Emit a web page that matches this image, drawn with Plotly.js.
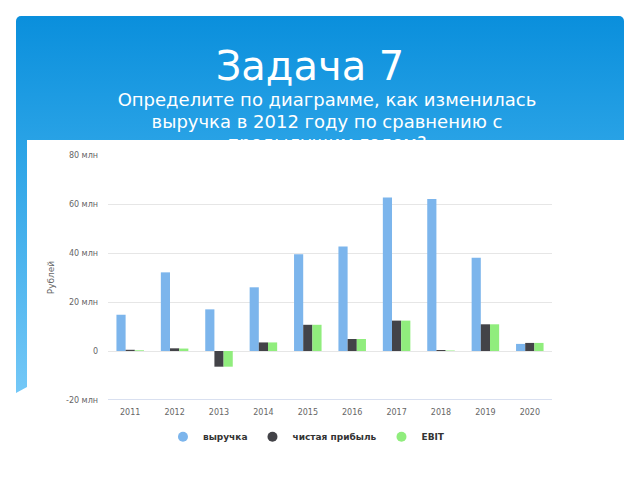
<!DOCTYPE html>
<html>
<head>
<meta charset="utf-8">
<script src="https://cdn.plot.ly/plotly-3.0.1.min.js"></script>
<style>
  html, body { margin: 0; padding: 0; background: #fff; }
  #slide { position: relative; width: 640px; height: 480px; overflow: hidden; background: #fff; }
  #blue { position: absolute; left: 16px; top: 16px; width: 608px; height: 377px;
          background: linear-gradient(to bottom, #0a8fdc 0%, #2aa3e6 35%, #74c8f7 100%);
          border-radius: 5px 5px 0 0;
          clip-path: polygon(0 0, 100% 0, 100% 100%, 11px 371px, 0 100%); }
  #title { position: absolute; left: 0; width: 620px; top: 40px; text-align: center;
           font-family: "DejaVu Sans", sans-serif; font-size: 40px; color: #fff; line-height: 52px; }
  #subtitle { position: absolute; left: 0; width: 654px; top: 89px; text-align: center;
              font-family: "DejaVu Sans", sans-serif; font-size: 18px; color: #fff; line-height: 21.5px; }
  #white { position: absolute; left: 27px; top: 140px; right: 0; bottom: 0; background: #fff; }
  #chart { position: absolute; left: 0; top: 0; width: 640px; height: 480px; }
</style>
</head>
<body>
<div id="slide">
  <div id="blue"></div>
  <div id="title">Задача 7</div>
  <div id="subtitle">Определите по диаграмме, как изменилась<br>выручка в 2012 году по сравнению с<br>предыдущим годом?</div>
  <div id="white"></div>
  <div id="chart"></div>
</div>
<script>
const years = ['2011','2012','2013','2014','2015','2016','2017','2018','2019','2020'];
const revenue   = [14.8, 32.1, 17.0, 26.0, 39.5, 42.7, 62.7, 62.0, 38.1, 2.9];
const netProfit = [0.5, 1.1, -6.4, 3.5, 10.7, 4.9, 12.4, 0.4, 10.9, 3.3];
const ebit      = [0.3, 1.0, -6.4, 3.5, 10.7, 4.9, 12.4, 0.2, 10.9, 3.3];
const seriesNames = ['выручка', 'чистая прибыль', 'EBIT'];
const seriesColors = ['#7cb5ec', '#434348', '#90ed7d'];
const yTickVals = [-20, 0, 20, 40, 60, 80];
const yTickText = ['-20 млн', '0', '20 млн', '40 млн', '60 млн', '80 млн'];

const seriesData = [revenue, netProfit, ebit];
const traces = [];
seriesData.forEach((vals, i) => {
  traces.push({
    type: 'bar', x: years, y: vals, name: seriesNames[i],
    marker: { color: seriesColors[i], line: { width: 0 } },
    showlegend: false, legendgroup: 'g' + i, hoverinfo: 'skip'
  });
});
seriesData.forEach((vals, i) => {
  traces.push({
    type: 'scatter', mode: 'markers', x: [null], y: [null], name: seriesNames[i],
    marker: { color: seriesColors[i], size: 10, symbol: 'circle' },
    legendgroup: 'g' + i, showlegend: true, hoverinfo: 'skip'
  });
});

const layout = {
  width: 640, height: 480,
  margin: { l: 108, r: 88, t: 155, b: 80 },
  paper_bgcolor: 'rgba(0,0,0,0)', plot_bgcolor: 'rgba(0,0,0,0)',
  barmode: 'group', bargap: 0.38, bargroupgap: 0,
  font: { family: '"DejaVu Sans", sans-serif', color: '#666', size: 8 },
  xaxis: {
    type: 'category', categoryorder: 'array', categoryarray: years,
    showgrid: false, zeroline: false, showline: false,
    ticks: '', ticklabelstandoff: 6,
    tickfont: { size: 8, color: '#666' }, fixedrange: true
  },
  yaxis: {
    range: [-20, 80], tickvals: yTickVals, ticktext: yTickText,
    showgrid: true, gridcolor: '#e6e6e6', gridwidth: 1,
    zeroline: true, zerolinecolor: '#e6e6e6', zerolinewidth: 1,
    showline: false, ticks: '', ticklabelstandoff: 9,
    tickfont: { size: 8, color: '#666' },
    title: { text: 'Рублей', font: { size: 9, color: '#666' }, standoff: 9 },
    fixedrange: true
  },
  shapes: [{
    type: 'line', xref: 'paper', yref: 'y', x0: 0, x1: 1, y0: -20, y1: -20,
    line: { color: '#ccd6eb', width: 1.5 }, layer: 'above'
  }],
  legend: {
    orientation: 'h', x: 0.447, xanchor: 'center', y: -0.15, yanchor: 'middle',
    font: { size: 9, color: '#333', weight: 700 }, bgcolor: 'rgba(0,0,0,0)',
    itemwidth: 30, traceorder: 'normal'
  },
  showlegend: true
};

Plotly.newPlot('chart', traces, layout, { staticPlot: true, displayModeBar: false });
</script>
</body>
</html>
